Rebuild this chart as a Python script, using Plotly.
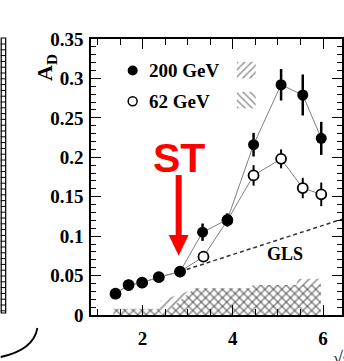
import plotly.graph_objects as go

# ---- data -------------------------------------------------------------
x_200 = [1.40, 1.69, 1.99, 2.36, 2.83, 3.33, 3.88, 4.46, 5.07, 5.55, 5.96]
y_200 = [0.027, 0.038, 0.041, 0.048, 0.055, 0.105, 0.121, 0.216, 0.292, 0.279, 0.224]
e_200 = [0.002, 0.002, 0.002, 0.002, 0.003, 0.011, 0.008, 0.015, 0.020, 0.026, 0.021]

x_62 = [1.40, 1.69, 1.99, 2.36, 2.83, 3.35, 3.88, 4.46, 5.07, 5.55, 5.96]
y_62 = [0.027, 0.038, 0.041, 0.048, 0.055, 0.074, 0.120, 0.177, 0.198, 0.161, 0.153]
e_62 = [0.002, 0.002, 0.002, 0.002, 0.003, 0.004, 0.008, 0.013, 0.012, 0.013, 0.015]

# systematic-uncertainty bands (outline of the hatched areas)
sys200_x = [1.35, 2.35, 2.40, 3.20, 4.40, 4.45, 5.40, 5.45, 5.95]
sys200_y = [0.008, 0.008, 0.018, 0.034, 0.034, 0.038, 0.038, 0.046, 0.046]
sys62_x = [1.35, 2.35, 2.45, 3.15, 4.40, 4.45, 5.95]
sys62_y = [0.008, 0.008, 0.000, 0.034, 0.034, 0.038, 0.038]

# GLS expectation (dashed)
gls_x = [2.83, 6.42]
gls_y = [0.055, 0.1215]

x_range = [0.857, 6.42]
y_range = [0, 0.35]
y_ticks = [0, 0.05, 0.1, 0.15, 0.2, 0.25, 0.3, 0.35]
x_ticks = [2, 4, 6]

# ---- layout geometry (pixels) ----------------------------------------
W, H = 344, 361
L, R, T, B = 91, 344, 39, 315

def px(x):
    return (x - L) / (R - L)

def py(y):
    return (B - y) / (B - T)

SERIF = '"Liberation Serif", "Times New Roman", serif'
HATCH = "#333333"

def sfont(size, color="black"):
    return dict(family=SERIF, size=size, color=color, weight="bold")

fig = go.Figure()

def band(xs, ys, shape, size=6, solidity=0.28):
    poly_x = [xs[0]] + xs + [xs[-1]]
    poly_y = [0] + ys + [0]
    return go.Scatter(
        x=poly_x, y=poly_y, mode="lines", fill="toself",
        line=dict(width=0), fillcolor="rgba(0,0,0,0)",
        fillpattern=dict(shape=shape, fgcolor=HATCH, bgcolor="rgba(0,0,0,0)",
                         size=size, solidity=solidity),
        hoverinfo="skip", showlegend=False)

fig.add_trace(band(sys200_x, sys200_y, "/"))
fig.add_trace(band(sys62_x, sys62_y, "\\"))

fig.add_trace(go.Scatter(x=gls_x, y=gls_y, mode="lines",
                         line=dict(color="#333333", width=1.5, dash="4px,3px"),
                         showlegend=False))

fig.add_trace(go.Scatter(
    x=x_62, y=y_62, mode="lines+markers",
    line=dict(color="#808080", width=1),
    marker=dict(symbol="circle", size=10, color="white",
                line=dict(color="black", width=1.8)),
    error_y=dict(type="data", array=e_62, color="black", thickness=2, width=0),
    showlegend=False))

fig.add_trace(go.Scatter(
    x=x_200, y=y_200, mode="lines+markers",
    line=dict(color="#808080", width=1),
    marker=dict(symbol="circle", size=11, color="black"),
    error_y=dict(type="data", array=e_200, color="black", thickness=2.5, width=0),
    showlegend=False))

# ---- hand-made legend -------------------------------------------------
fig.add_trace(go.Scatter(x=[1.78], y=[0.310], mode="markers",
                         marker=dict(size=10, color="black"),
                         showlegend=False, hoverinfo="skip"))
fig.add_trace(go.Scatter(x=[1.78], y=[0.271], mode="markers",
                         marker=dict(size=9, color="white",
                                     line=dict(color="black", width=1.5)),
                         showlegend=False, hoverinfo="skip"))
fig.add_trace(band([4.09, 4.51], [0.021, 0.021], "/", size=5, solidity=0.3).update(
    y=[0.300, 0.321, 0.321, 0.300]))
fig.add_trace(band([4.09, 4.51], [0.021, 0.021], "\\", size=5, solidity=0.3).update(
    y=[0.262, 0.283, 0.283, 0.262]))

annotations = [
    dict(x=2.10, y=0.310, text="200 GeV", showarrow=False, xanchor="left",
         font=sfont(19)),
    dict(x=2.10, y=0.271, text="62 GeV", showarrow=False, xanchor="left",
         font=sfont(19)),
    dict(x=5.15, y=0.077, text="GLS", showarrow=False, font=sfont(18)),
    dict(x=2.80, y=0.199, text="ST", showarrow=False,
         font=dict(family="Liberation Sans", size=41, color="#ff0000",
                   weight="bold")),
    dict(xref="paper", yref="paper", x=px(29), y=py(52),
         text="A<sub>D</sub>", textangle=-90, showarrow=False, font=sfont(22)),
    dict(xref="paper", yref="paper", x=px(333), y=py(346), xanchor="left",
         yanchor="top", text="√s", showarrow=False, font=sfont(18)),
]

shapes = [
    # red arrow
    dict(type="line", x0=2.80, x1=2.80, y0=0.1775, y1=0.098,
         line=dict(color="#ff0000", width=6)),
    dict(type="path", path="M 2.58 0.1015 L 3.02 0.1015 L 2.80 0.075 Z",
         fillcolor="#ff0000", line=dict(width=0)),
]

# neighbouring panel edge on the left
shapes.append(dict(type="rect", xref="paper", yref="paper",
                   x0=px(0.5), x1=px(5), y0=py(313), y1=py(38),
                   line=dict(color="black", width=1.2)))
yy = 44
while yy < 312:
    shapes.append(dict(type="line", xref="paper", yref="paper",
                       x0=px(0), x1=px(5), y0=py(yy), y1=py(yy),
                       line=dict(color="black", width=1)))
    yy += 5.8
# bracket curve at lower left
shapes.append(dict(type="path", xref="paper", yref="paper",
                   path=f"M {px(37)} {py(328)} Q {px(33)} {py(350)} {px(0)} {py(357)}",
                   line=dict(color="black", width=1.8)))

fig.update_layout(
    width=W, height=H,
    margin=dict(l=L, r=W - R, t=T, b=H - B, pad=0),
    paper_bgcolor="white", plot_bgcolor="white",
    annotations=annotations, shapes=shapes,
    font=dict(family=SERIF, color="black"),
)
fig.update_xaxes(
    range=x_range, tickvals=x_ticks, ticks="inside", ticklen=10, tickwidth=1.3,
    tickcolor="black", showline=True, linecolor="black", linewidth=1.5,
    mirror="allticks", showgrid=False, zeroline=False,
    tickfont=sfont(19), ticklabelstandoff=5,
    minor=dict(dtick=0.5, tick0=0, ticks="inside", ticklen=6, tickcolor="black",
               tickwidth=1.2, showgrid=False),
)
fig.update_yaxes(
    range=y_range, tickvals=y_ticks, ticks="inside", ticklen=10, tickwidth=1.3,
    tickcolor="black", showline=True, linecolor="black", linewidth=1.5,
    mirror="allticks", showgrid=False, zeroline=False,
    tickfont=sfont(19), ticklabelstandoff=2,
    minor=dict(dtick=0.01, tick0=0, ticks="inside", ticklen=5, tickcolor="black",
               tickwidth=1.2, showgrid=False),
)

fig.write_html("out.html")
